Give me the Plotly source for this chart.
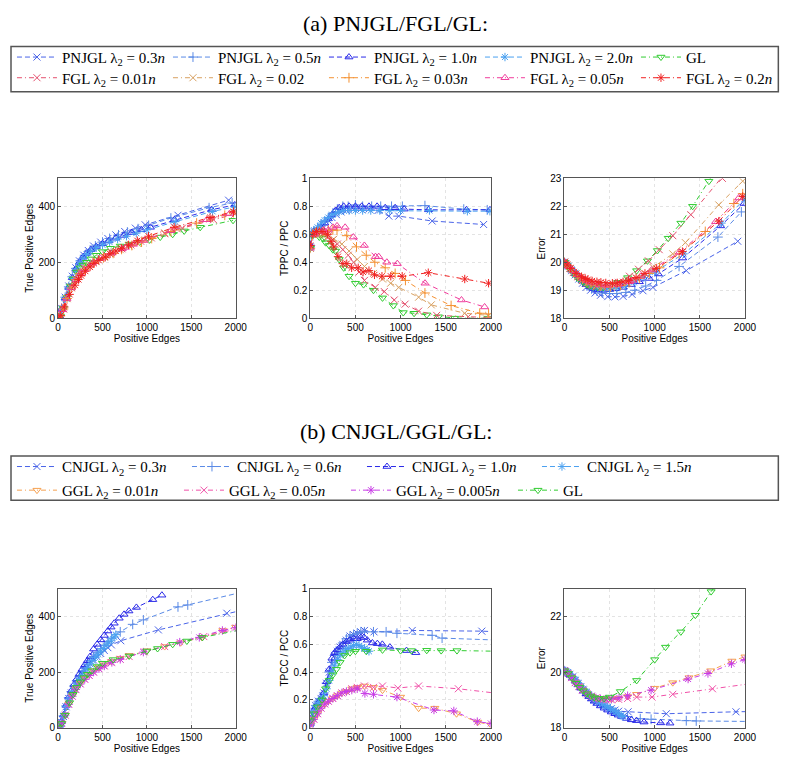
"""Recreate the PNJGL/FGL/GL and CNJGL/GGL/GL comparison panels."""

import plotly.graph_objects as go

# ---------------- (a) PNJGL / FGL / GL ----------------
PNJGL_03_X = [0, 15, 40, 80, 120, 160, 200, 240, 290, 340, 400, 480, 560, 650, 750, 870, 980, 1350, 1920]
PNJGL_03_TP = [0, 8, 35, 75, 115, 150, 180, 205, 225, 242, 258, 272, 285, 298, 310, 322, 334, 368, 422]
PNJGL_03_TPPC = [0.51, 0.6, 0.62, 0.63, 0.65, 0.68, 0.7, 0.72, 0.74, 0.76, 0.77, 0.78, 0.78, 0.78, 0.77, 0.73, 0.73, 0.695, 0.67]
PNJGL_03_ERR = [20.0, 19.95, 19.85, 19.7, 19.55, 19.4, 19.25, 19.1, 19.0, 18.9, 18.82, 18.77, 18.76, 18.78, 18.85, 18.98, 19.1, 19.7, 20.75]

PNJGL_05_X = [0, 15, 40, 80, 120, 160, 200, 250, 300, 360, 420, 500, 580, 680, 780, 900, 1020, 1270, 1700, 1960]
PNJGL_05_TP = [0, 8, 35, 75, 112, 148, 178, 205, 225, 243, 258, 272, 285, 298, 308, 320, 332, 358, 395, 412]
PNJGL_05_TPPC = [0.52, 0.6, 0.62, 0.63, 0.66, 0.69, 0.72, 0.75, 0.78, 0.8, 0.8, 0.81, 0.8, 0.8, 0.8, 0.8, 0.8, 0.805, 0.78, 0.775]
PNJGL_05_ERR = [20.0, 19.95, 19.85, 19.72, 19.58, 19.45, 19.3, 19.15, 19.05, 18.97, 18.9, 18.88, 18.88, 18.92, 19.0, 19.15, 19.35, 19.85, 20.9, 21.8]

PNJGL_10_X = [0, 15, 40, 80, 120, 160, 200, 240, 280, 320, 370, 430, 500, 570, 650, 740, 830, 940, 1040, 1310, 1730, 1990]
PNJGL_10_TP = [0, 8, 33, 72, 110, 145, 175, 200, 218, 232, 245, 256, 266, 276, 286, 296, 306, 316, 325, 352, 388, 405]
PNJGL_10_TPPC = [0.52, 0.6, 0.62, 0.63, 0.65, 0.68, 0.71, 0.74, 0.77, 0.79, 0.8, 0.8, 0.8, 0.8, 0.8, 0.8, 0.79, 0.79, 0.78, 0.775, 0.775, 0.775]
PNJGL_10_ERR = [20.0, 19.95, 19.85, 19.72, 19.58, 19.45, 19.32, 19.2, 19.12, 19.06, 19.02, 19.0, 19.02, 19.05, 19.1, 19.2, 19.3, 19.42, 19.58, 20.15, 21.3, 22.1]

PNJGL_20_X = [0, 15, 40, 80, 120, 160, 200, 240, 280, 320, 370, 430, 500, 580, 670, 770, 880, 1000, 1320, 1740, 1990]
PNJGL_20_TP = [0, 8, 33, 70, 108, 142, 172, 196, 214, 228, 240, 252, 262, 272, 283, 293, 304, 316, 345, 382, 398]
PNJGL_20_TPPC = [0.5, 0.6, 0.63, 0.65, 0.68, 0.7, 0.72, 0.74, 0.75, 0.76, 0.77, 0.77, 0.77, 0.77, 0.77, 0.77, 0.77, 0.77, 0.77, 0.765, 0.765]
PNJGL_20_ERR = [20.0, 19.96, 19.87, 19.75, 19.62, 19.5, 19.38, 19.27, 19.18, 19.12, 19.07, 19.05, 19.05, 19.08, 19.15, 19.28, 19.45, 19.65, 20.3, 21.4, 22.25]

GL_A_X = [0, 25, 60, 100, 140, 170, 210, 250, 280, 320, 370, 430, 500, 590, 700, 800, 920, 1030, 1150, 1290, 1420, 1600, 1970]
GL_A_TP = [0, 8, 35, 75, 115, 140, 165, 180, 190, 200, 212, 225, 238, 250, 258, 265, 272, 280, 290, 300, 312, 325, 350]
GL_A_TPPC = [0.5, 0.59, 0.6, 0.58, 0.57, 0.54, 0.52, 0.49, 0.48, 0.42, 0.36, 0.3, 0.25, 0.24, 0.2, 0.145, 0.09, 0.04, 0.035, 0.024, 0.01, 0.0, 0.0]
GL_A_ERR = [20.0, 19.88, 19.75, 19.6, 19.45, 19.38, 19.28, 19.2, 19.15, 19.12, 19.1, 19.1, 19.15, 19.28, 19.45, 19.7, 20.05, 20.42, 20.86, 21.4, 22.0, 22.9, 24.8]

FGL_001_X = [0, 25, 60, 100, 150, 200, 250, 300, 360, 420, 480, 540, 600, 720, 820, 930, 1050, 1200, 1400, 1750, 1990]
FGL_001_TP = [0, 8, 33, 70, 110, 140, 162, 178, 192, 205, 215, 225, 235, 248, 262, 275, 287, 302, 322, 352, 372]
FGL_001_TPPC = [0.5, 0.6, 0.61, 0.6, 0.6, 0.58, 0.56, 0.53, 0.49, 0.45, 0.4, 0.33, 0.27, 0.22, 0.19, 0.13, 0.1, 0.05, 0.02, 0.01, 0.005]
FGL_001_ERR = [20.0, 19.9, 19.78, 19.63, 19.48, 19.35, 19.25, 19.18, 19.13, 19.12, 19.15, 19.2, 19.28, 19.5, 19.75, 20.05, 20.45, 20.95, 21.7, 23.0, 24.0]

FGL_002_X = [0, 25, 60, 100, 150, 200, 260, 350, 430, 520, 600, 700, 800, 890, 980, 1200, 1340, 1710, 1975]
FGL_002_TP = [0, 8, 33, 70, 108, 138, 162, 185, 202, 218, 230, 245, 258, 268, 280, 305, 320, 355, 378]
FGL_002_TPPC = [0.5, 0.6, 0.6, 0.6, 0.6, 0.59, 0.565, 0.53, 0.48, 0.42, 0.37, 0.32, 0.28, 0.25, 0.22, 0.15, 0.095, 0.035, 0.02]
FGL_002_ERR = [20.0, 19.9, 19.78, 19.64, 19.5, 19.38, 19.27, 19.15, 19.1, 19.1, 19.15, 19.25, 19.42, 19.6, 19.82, 20.3, 20.7, 22.05, 22.9]

FGL_003_X = [0, 25, 60, 100, 150, 200, 250, 296, 404, 512, 620, 715, 830, 940, 1054, 1270, 1560, 1877, 1975]
FGL_003_TP = [0, 8, 33, 70, 108, 138, 160, 175, 198, 216, 232, 246, 260, 272, 285, 310, 340, 368, 378]
FGL_003_TPPC = [0.5, 0.6, 0.61, 0.62, 0.62, 0.63, 0.63, 0.63, 0.59, 0.51, 0.45, 0.4, 0.36, 0.32, 0.27, 0.18, 0.09, 0.035, 0.03]
FGL_003_ERR = [20.0, 19.9, 19.78, 19.64, 19.5, 19.4, 19.3, 19.25, 19.15, 19.12, 19.17, 19.27, 19.42, 19.6, 19.8, 20.3, 21.1, 22.1, 22.45]

FGL_005_X = [0, 50, 100, 150, 200, 250, 296, 386, 477, 599, 722, 758, 848, 964, 1271, 1675, 1931]
FGL_005_TP = [0, 30, 70, 108, 138, 160, 175, 197, 214, 233, 248, 253, 264, 278, 313, 352, 374]
FGL_005_TPPC = [0.5, 0.6, 0.62, 0.63, 0.63, 0.65, 0.66, 0.65, 0.58, 0.52, 0.44, 0.44, 0.4, 0.39, 0.25, 0.13, 0.08]
FGL_005_ERR = [20.0, 19.85, 19.7, 19.55, 19.42, 19.33, 19.28, 19.2, 19.17, 19.2, 19.3, 19.35, 19.5, 19.72, 20.35, 21.45, 22.3]

FGL_02_X = [0, 30, 70, 130, 190, 230, 260, 307, 360, 404, 458, 531, 585, 650, 711, 794, 892, 1018, 1307, 1711, 1975]
FGL_02_TP = [0, 10, 40, 85, 118, 138, 152, 168, 183, 196, 207, 218, 230, 240, 250, 262, 277, 293, 325, 360, 381]
FGL_02_TPPC = [0.52, 0.6, 0.62, 0.62, 0.6, 0.55, 0.51, 0.44, 0.39, 0.39, 0.36, 0.36, 0.33, 0.34, 0.31, 0.3, 0.3, 0.3, 0.325, 0.28, 0.25]
FGL_02_ERR = [20.0, 19.9, 19.78, 19.6, 19.48, 19.42, 19.38, 19.33, 19.3, 19.28, 19.26, 19.25, 19.26, 19.3, 19.35, 19.45, 19.6, 19.78, 20.38, 21.47, 22.35]

# ---------------- (b) CNJGL / GGL / GL ----------------
CNJGL_03_X = [0, 15, 35, 60, 90, 120, 150, 180, 210, 240, 270, 300, 330, 360, 400, 440, 480, 520, 560, 600, 706, 1129, 1900, 2100]
CNJGL_03_TP = [0, 5, 20, 40, 75, 105, 125, 145, 162, 178, 192, 205, 218, 230, 243, 255, 267, 278, 288, 298, 313, 352, 412, 425]
CNJGL_03_TPCC = [0.03, 0.08, 0.12, 0.16, 0.19, 0.21, 0.25, 0.32, 0.4, 0.46, 0.52, 0.55, 0.58, 0.6, 0.63, 0.66, 0.67, 0.68, 0.69, 0.7, 0.69, 0.7, 0.695, 0.69]
CNJGL_03_ERR = [20.05, 20.02, 19.98, 19.92, 19.82, 19.7, 19.58, 19.46, 19.35, 19.25, 19.16, 19.08, 19.0, 18.93, 18.86, 18.8, 18.74, 18.68, 18.63, 18.59, 18.57, 18.5, 18.57, 18.58]

CNJGL_06_X = [0, 15, 35, 60, 90, 120, 150, 180, 210, 240, 270, 300, 330, 360, 400, 440, 480, 520, 560, 600, 700, 840, 960, 1350, 1460, 2100]
CNJGL_06_TP = [0, 5, 20, 42, 78, 108, 130, 150, 168, 185, 200, 214, 228, 241, 256, 270, 284, 297, 310, 322, 345, 372, 388, 435, 442, 490]
CNJGL_06_TPCC = [0.03, 0.08, 0.12, 0.16, 0.19, 0.21, 0.25, 0.32, 0.4, 0.47, 0.52, 0.55, 0.58, 0.61, 0.64, 0.66, 0.67, 0.68, 0.69, 0.69, 0.69, 0.69, 0.68, 0.665, 0.645, 0.63]
CNJGL_06_ERR = [20.05, 20.02, 19.98, 19.92, 19.82, 19.7, 19.58, 19.46, 19.35, 19.25, 19.15, 19.06, 18.98, 18.9, 18.82, 18.74, 18.67, 18.6, 18.55, 18.5, 18.4, 18.32, 18.3, 18.25, 18.24, 18.22]

CNJGL_10_X = [0, 15, 35, 60, 90, 120, 150, 180, 210, 240, 270, 300, 330, 360, 400, 440, 480, 520, 560, 596, 632, 688, 743, 798, 882, 1066, 1169]
CNJGL_10_TP = [0, 5, 22, 45, 80, 110, 133, 155, 175, 193, 210, 226, 241, 256, 283, 300, 316, 332, 348, 362, 376, 394, 408, 420, 433, 461, 477]
CNJGL_10_TPCC = [0.03, 0.07, 0.12, 0.15, 0.18, 0.21, 0.25, 0.33, 0.42, 0.5, 0.54, 0.56, 0.58, 0.6, 0.62, 0.63, 0.64, 0.64, 0.65, 0.65, 0.63, 0.61, 0.605, 0.6, 0.58, 0.555, 0.54]
CNJGL_10_ERR = [20.05, 20.02, 19.97, 19.9, 19.8, 19.68, 19.55, 19.43, 19.32, 19.22, 19.12, 19.03, 18.95, 18.87, 18.78, 18.7, 18.63, 18.56, 18.5, 18.45, 18.4, 18.33, 18.28, 18.25, 18.2, 18.17, 18.16]

CNJGL_15_X = [0, 15, 35, 60, 90, 120, 150, 180, 210, 240, 270, 300, 330, 360, 390, 420, 450, 480, 510, 540, 570, 600, 630, 650]
CNJGL_15_TP = [0, 5, 20, 42, 75, 103, 123, 143, 160, 176, 190, 204, 217, 230, 242, 253, 264, 275, 285, 295, 305, 315, 327, 335]
CNJGL_15_TPCC = [0.03, 0.07, 0.11, 0.15, 0.18, 0.2, 0.23, 0.28, 0.34, 0.4, 0.45, 0.49, 0.52, 0.54, 0.56, 0.57, 0.58, 0.59, 0.6, 0.59, 0.58, 0.57, 0.56, 0.55]
CNJGL_15_ERR = [20.05, 20.03, 19.99, 19.93, 19.84, 19.73, 19.62, 19.5, 19.4, 19.3, 19.21, 19.13, 19.05, 18.98, 18.91, 18.85, 18.79, 18.74, 18.68, 18.62, 18.56, 18.5, 18.44, 18.4]

GGL_001_X = [0, 40, 80, 120, 160, 200, 250, 300, 350, 400, 460, 520, 600, 700, 800, 1000, 1200, 1380, 1620, 1855, 2000]
GGL_001_TP = [0, 15, 45, 85, 115, 140, 160, 178, 192, 205, 216, 226, 238, 250, 260, 277, 292, 306, 325, 350, 362]
GGL_001_TPCC = [0.02, 0.06, 0.1, 0.14, 0.17, 0.19, 0.21, 0.23, 0.25, 0.26, 0.28, 0.29, 0.3, 0.29, 0.27, 0.22, 0.14, 0.14, 0.1, 0.04, 0.02]
GGL_001_ERR = [20.05, 19.95, 19.8, 19.62, 19.48, 19.35, 19.22, 19.13, 19.07, 19.04, 19.02, 19.02, 19.05, 19.12, 19.2, 19.42, 19.62, 19.8, 20.05, 20.4, 20.55]

GGL_005_X = [0, 40, 80, 120, 160, 200, 250, 300, 350, 400, 460, 520, 600, 700, 800, 970, 1200, 1640, 2100]
GGL_005_TP = [0, 15, 45, 84, 113, 137, 157, 174, 188, 200, 212, 222, 234, 246, 256, 273, 292, 328, 362]
GGL_005_TPCC = [0.02, 0.06, 0.1, 0.14, 0.17, 0.19, 0.21, 0.23, 0.25, 0.26, 0.28, 0.29, 0.3, 0.29, 0.3, 0.285, 0.3, 0.28, 0.245]
GGL_005_ERR = [20.05, 19.95, 19.8, 19.62, 19.48, 19.35, 19.22, 19.13, 19.07, 19.03, 19.0, 19.0, 19.02, 19.05, 19.1, 19.1, 19.2, 19.4, 19.6]

GGL_0005_X = [0, 40, 80, 120, 160, 200, 250, 300, 350, 400, 460, 520, 605, 700, 960, 1370, 1590, 1850, 2000]
GGL_0005_TP = [0, 15, 45, 84, 113, 137, 157, 174, 188, 200, 212, 222, 235, 246, 272, 308, 325, 350, 360]
GGL_0005_TPCC = [0.02, 0.06, 0.1, 0.14, 0.17, 0.19, 0.21, 0.23, 0.25, 0.26, 0.27, 0.28, 0.246, 0.24, 0.22, 0.127, 0.12, 0.043, 0.03]
GGL_0005_ERR = [20.05, 19.95, 19.8, 19.62, 19.48, 19.35, 19.22, 19.13, 19.07, 19.04, 19.03, 19.04, 19.08, 19.15, 19.35, 19.75, 19.95, 20.3, 20.45]

GL_B_X = [0, 40, 80, 130, 170, 210, 250, 290, 330, 380, 440, 500, 620, 800, 1000, 1120, 1290, 1450, 1625, 2100]
GL_B_TP = [0, 15, 45, 90, 120, 145, 165, 180, 192, 205, 220, 232, 245, 258, 276, 285, 300, 312, 325, 355]
GL_B_TPCC = [0.05, 0.1, 0.15, 0.2, 0.28, 0.34, 0.38, 0.42, 0.47, 0.52, 0.54, 0.55, 0.55, 0.56, 0.555, 0.555, 0.557, 0.555, 0.555, 0.55]
GL_B_ERR = [20.05, 19.95, 19.8, 19.6, 19.45, 19.33, 19.22, 19.14, 19.08, 19.05, 19.05, 19.1, 19.3, 19.7, 20.45, 20.9, 21.45, 22.05, 22.9, 25.0]

BLUE = "#4a64e8"
BLUE_LIGHT = "#5a8ae6"
BLUE_DARK = "#2a2ae8"
SKY = "#4aa0f0"
GREEN = "#30cc30"

DASH = "5px,3px"
DASHDOT = "5px,3px,1px,3px"

# (label, colour, marker, dash, legend row, x, panel1, panel2, panel3)
SERIES_A = [
    ("PNJGL λ<sub>2</sub> = 0.3<i>n</i>", BLUE, "x-thin", DASH, "legend", PNJGL_03_X, PNJGL_03_TP, PNJGL_03_TPPC, PNJGL_03_ERR),
    ("PNJGL λ<sub>2</sub> = 0.5<i>n</i>", BLUE_LIGHT, "cross-thin", DASH, "legend", PNJGL_05_X, PNJGL_05_TP, PNJGL_05_TPPC, PNJGL_05_ERR),
    ("PNJGL λ<sub>2</sub> = 1.0<i>n</i>", BLUE_DARK, "triangle-up-open", DASH, "legend", PNJGL_10_X, PNJGL_10_TP, PNJGL_10_TPPC, PNJGL_10_ERR),
    ("PNJGL λ<sub>2</sub> = 2.0<i>n</i>", SKY, "asterisk", DASH, "legend", PNJGL_20_X, PNJGL_20_TP, PNJGL_20_TPPC, PNJGL_20_ERR),
    ("GL", GREEN, "triangle-down-open", DASHDOT, "legend", GL_A_X, GL_A_TP, GL_A_TPPC, GL_A_ERR),
    ("FGL λ<sub>2</sub> = 0.01<i>n</i>", "#e4506e", "x-thin", DASHDOT, "legend2", FGL_001_X, FGL_001_TP, FGL_001_TPPC, FGL_001_ERR),
    ("FGL λ<sub>2</sub> = 0.02", "#d8a060", "x-thin", DASHDOT, "legend2", FGL_002_X, FGL_002_TP, FGL_002_TPPC, FGL_002_ERR),
    ("FGL λ<sub>2</sub> = 0.03<i>n</i>", "#f49030", "cross-thin", DASHDOT, "legend2", FGL_003_X, FGL_003_TP, FGL_003_TPPC, FGL_003_ERR),
    ("FGL λ<sub>2</sub> = 0.05<i>n</i>", "#f03c9c", "triangle-up-open", DASHDOT, "legend2", FGL_005_X, FGL_005_TP, FGL_005_TPPC, FGL_005_ERR),
    ("FGL λ<sub>2</sub> = 0.2<i>n</i>", "#f02020", "asterisk", DASHDOT, "legend2", FGL_02_X, FGL_02_TP, FGL_02_TPPC, FGL_02_ERR),
]

SERIES_B = [
    ("CNJGL λ<sub>2</sub> = 0.3<i>n</i>", BLUE, "x-thin", DASH, "legend3", CNJGL_03_X, CNJGL_03_TP, CNJGL_03_TPCC, CNJGL_03_ERR),
    ("CNJGL λ<sub>2</sub> = 0.6<i>n</i>", BLUE_LIGHT, "cross-thin", DASH, "legend3", CNJGL_06_X, CNJGL_06_TP, CNJGL_06_TPCC, CNJGL_06_ERR),
    ("CNJGL λ<sub>2</sub> = 1.0<i>n</i>", BLUE_DARK, "triangle-up-open", DASH, "legend3", CNJGL_10_X, CNJGL_10_TP, CNJGL_10_TPCC, CNJGL_10_ERR),
    ("CNJGL λ<sub>2</sub> = 1.5<i>n</i>", SKY, "asterisk", DASH, "legend3", CNJGL_15_X, CNJGL_15_TP, CNJGL_15_TPCC, CNJGL_15_ERR),
    ("GGL λ<sub>2</sub> = 0.01<i>n</i>", "#f5a050", "triangle-down-open", DASHDOT, "legend4", GGL_001_X, GGL_001_TP, GGL_001_TPCC, GGL_001_ERR),
    ("GGL λ<sub>2</sub> = 0.05<i>n</i>", "#f050a8", "x-thin", DASHDOT, "legend4", GGL_005_X, GGL_005_TP, GGL_005_TPCC, GGL_005_ERR),
    ("GGL λ<sub>2</sub> = 0.005<i>n</i>", "#c83ce6", "asterisk", DASHDOT, "legend4", GGL_0005_X, GGL_0005_TP, GGL_0005_TPCC, GGL_0005_ERR),
    ("GL", GREEN, "triangle-down-open", DASHDOT, "legend4", GL_B_X, GL_B_TP, GL_B_TPCC, GL_B_ERR),
]

W, H = 800, 764
PAD = 8  # the page body margin shifts the figure by this much
COLS = [(56, 237), (313, 497), (572, 756)]
ROWS = [(175, 317), (592, 733)]

AXIS_FONT = dict(family="Liberation Sans, Arial", size=10, color="black")
SERIF = "Liberation Serif, Times New Roman, serif"


def px_x(px):
    return (px - PAD) / W


def px_y(py):
    return 1 - (py - PAD) / H


def add_series(fig, series, row):
    for name, color, symbol, dash, legend_name, xs, *panels in series:
        for col, ys in enumerate(panels):
            idx = row * 3 + col + 1
            suffix = "" if idx == 1 else str(idx)
            fig.add_trace(go.Scatter(
                x=xs, y=ys, name=name, mode="lines+markers",
                legend=legend_name, legendgroup=f"{legend_name}-{name}",
                showlegend=(col == 0),
                line=dict(color=color, width=1, dash=dash),
                marker=dict(symbol=symbol, size=7, color=color,
                            line=dict(width=1, color=color)),
                xaxis="x" + suffix, yaxis="y" + suffix,
            ))


def axis_layout(fig):
    yspecs = [
        ("True Positive Edges", [0, 500], [0, 200, 400]),
        ("TPPC / PPC", [0, 1], [0, 0.2, 0.4, 0.6, 0.8, 1]),
        ("Error", [18, 23], [18, 19, 20, 21, 22, 23]),
        ("True Positive Edges", [0, 500], [0, 200, 400]),
        ("TPCC / PCC", [0, 1], [0, 0.2, 0.4, 0.6, 0.8, 1]),
        ("Error", [18, 23], [18, 20, 22]),
    ]
    common = dict(showline=True, mirror=True, linecolor="#555555", linewidth=1,
                  ticks="inside", ticklen=3, tickcolor="#555555",
                  showgrid=True, gridcolor="#e3e3e3", griddash="dot",
                  zeroline=False, tickfont=AXIS_FONT)
    for i, (ytitle, yrange, yticks) in enumerate(yspecs):
        row, col = divmod(i, 3)
        x0, x1 = COLS[col]
        top, bottom = ROWS[row]
        suffix = "" if i == 0 else str(i + 1)
        fig.layout["xaxis" + suffix] = dict(
            domain=[px_x(x0), px_x(x1)], range=[0, 2000],
            tickvals=[0, 500, 1000, 1500, 2000], anchor="y" + suffix,
            title=dict(text="Positive Edges", font=AXIS_FONT, standoff=0), **common)
        fig.layout["yaxis" + suffix] = dict(
            domain=[px_y(bottom), px_y(top)], range=yrange,
            tickvals=yticks, anchor="x" + suffix,
            title=dict(text=ytitle, font=AXIS_FONT, standoff=2), **common)


def legend_row(y_center, width):
    return dict(orientation="h", x=px_x(9), y=px_y(y_center),
                xanchor="left", yanchor="middle",
                font=dict(family=SERIF, size=15, color="black"),
                itemwidth=40, entrywidthmode="pixels", entrywidth=width,
                bgcolor="rgba(0,0,0,0)", borderwidth=0)


def main():
    fig = go.Figure()
    add_series(fig, SERIES_A, 0)
    add_series(fig, SERIES_B, 1)
    axis_layout(fig)

    title_font = dict(family=SERIF, size=22, color="black")
    box_line = dict(color="#555555", width=1.5)
    fig.update_layout(
        width=W, height=H,
        margin=dict(l=0, r=0, t=0, b=0),
        paper_bgcolor="white", plot_bgcolor="white",
        legend=legend_row(52, 101),
        legend2=legend_row(73, 101),
        legend3=legend_row(468, 120),
        legend4=legend_row(492, 112),
        annotations=[
            dict(text="(a) PNJGL/FGL/GL:", x=px_x(400), y=px_y(18), xref="paper", yref="paper",
                 xanchor="center", yanchor="middle", showarrow=False, font=title_font),
            dict(text="(b) CNJGL/GGL/GL:", x=px_x(400), y=px_y(432), xref="paper", yref="paper",
                 xanchor="center", yanchor="middle", showarrow=False, font=title_font),
        ],
        shapes=[
            dict(type="rect", xref="paper", yref="paper", x0=px_x(8), x1=px_x(790),
                 y0=px_y(87), y1=px_y(41), line=box_line),
            dict(type="rect", xref="paper", yref="paper", x0=px_x(8), x1=px_x(790),
                 y0=px_y(502), y1=px_y(457), line=box_line),
        ],
        showlegend=True,
    )
    fig.write_html("out.html")


if __name__ == "__main__":
    main()
